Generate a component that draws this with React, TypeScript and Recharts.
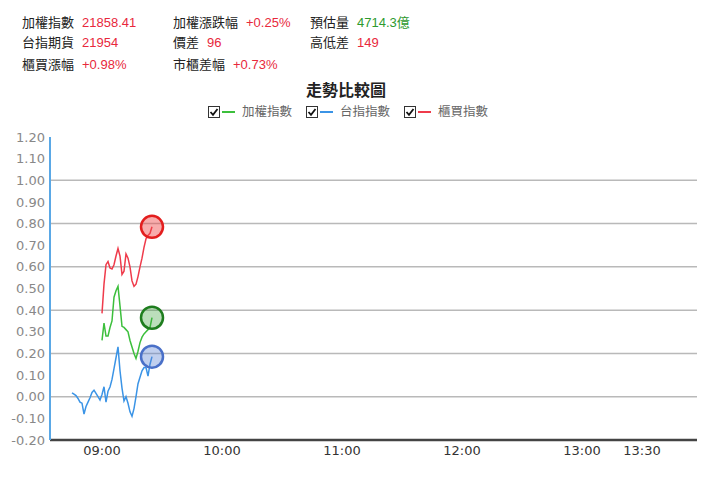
import React from "react";
import { LineChart, Line, XAxis, YAxis, ReferenceLine } from "recharts";

// minutes relative to 09:00
const times = [
  -15, -14, -13, -12, -11, -10, -9, -8, -7, -6, -5, -4, -3, -2, -1,
  0, 1, 2, 3, 4, 5, 6, 7, 8, 9, 10, 11, 12, 13, 14, 15, 16, 17, 18, 19, 20, 21, 22, 23, 24, 25,
];

// 台指指數 (starts 08:45)
const futures = [
  0.018, 0.012, 0.005, -0.008, -0.025, -0.03, -0.08, -0.045, -0.025, -0.005, 0.02, 0.03, 0.015, 0.0, -0.015,
  0.01, 0.046, -0.025, 0.025, 0.045, 0.08, 0.13, 0.18, 0.23, 0.12, 0.04, -0.02, 0.0, -0.03, -0.07, -0.09,
  -0.055, 0.0, 0.06, 0.09, 0.12, 0.135, 0.135, 0.095, 0.15, 0.185,
];

// 加權指數 (starts 09:00)
const taiex = [
  0.26, 0.34, 0.28, 0.28, 0.32, 0.35, 0.46, 0.49, 0.51, 0.42, 0.325, 0.32, 0.31, 0.3, 0.26, 0.23,
  0.2, 0.177, 0.21, 0.25, 0.275, 0.29, 0.3, 0.31, 0.32, 0.365,
];

// 櫃買指數 (starts 09:00)
const otc = [
  0.385, 0.52, 0.61, 0.625, 0.595, 0.59, 0.61, 0.65, 0.685, 0.65, 0.565, 0.58, 0.66, 0.64, 0.6, 0.535,
  0.51, 0.52, 0.555, 0.6, 0.64, 0.69, 0.73, 0.745, 0.755, 0.785,
];

const xTicks = [0, 60, 120, 180, 240, 270];
const yTicks = [-0.2, -0.1, 0, 0.1, 0.2, 0.3, 0.4, 0.5, 0.6, 0.7, 0.8, 0.9, 1.0, 1.1, 1.2];
const gridLines = [0, 0.2, 0.4, 0.6, 0.8, 1.0];

const RED = "#e8283c";
const GREEN = "#2e9a2e";

const headerRows = [
  [
    ["加權指數", "21858.41", RED],
    ["加權漲跌幅", "+0.25%", RED],
    ["預估量", "4714.3億", GREEN],
  ],
  [
    ["台指期貨", "21954", RED],
    ["價差", "96", RED],
    ["高低差", "149", RED],
  ],
  [
    ["櫃買漲幅", "+0.98%", RED],
    ["市櫃差幅", "+0.73%", RED],
  ],
];

const series = [
  { key: "taiex", name: "加權指數", color: "#3cbf3c", ring: "#1e7d1e", fill: "rgba(60,160,60,0.35)" },
  { key: "futures", name: "台指指數", color: "#3b94e6", ring: "#4a70c8", fill: "rgba(90,130,210,0.38)" },
  { key: "otc", name: "櫃買指數", color: "#ef3b4b", ring: "#e31e1e", fill: "rgba(240,70,70,0.45)" },
];

const offset = times.length - taiex.length;
const data = times.map((t, i) => ({
  t,
  futures: futures[i],
  taiex: i >= offset ? taiex[i - offset] : undefined,
  otc: i >= offset ? otc[i - offset] : undefined,
}));

const fmtTime = (m: number) => {
  const total = 9 * 60 + m;
  const h = Math.floor(total / 60);
  const mm = total % 60;
  return `${String(h).padStart(2, "0")}:${String(mm).padStart(2, "0")}`;
};

const endDot = (ring: string, fill: string) => (props: any) => {
  const { cx, cy, index } = props;
  if (index !== data.length - 1 || cx == null || cy == null) return <g key={`d-${index}`} />;
  return <circle key={`d-${index}`} cx={cx} cy={cy} r={11} stroke={ring} strokeWidth={2.5} fill={fill} />;
};

const colX = [22, 173, 310];
const rowY = [13, 33, 55];

const CheckBox = () => (
  <svg width={12} height={12} style={{ verticalAlign: "middle" }}>
    <rect x={0.5} y={0.5} width={11} height={11} fill="#fff" stroke="#333" />
    <polyline points="2.5,6 5,8.8 9.5,3" fill="none" stroke="#111" strokeWidth={1.8} />
  </svg>
);

export default function App() {
  return (
    <div
      style={{
        position: "absolute",
        left: 0,
        top: 0,
        width: 720,
        height: 477,
        background: "#fff",
        fontFamily: '"Liberation Sans", "Noto Sans CJK TC", sans-serif',
      }}
    >
      <LineChart
        width={720}
        height={477}
        data={data}
        margin={{ top: 137, right: 23, bottom: 0, left: 0 }}
        style={{ position: "absolute", left: 0, top: 0 }}
      >
        {gridLines.map((v) => (
          <ReferenceLine key={v} y={v} stroke="#b9b9b9" strokeWidth={1.5} />
        ))}
        <XAxis
          dataKey="t"
          type="number"
          domain={[-26, 297.5]}
          ticks={xTicks}
          interval={0}
          tickFormatter={fmtTime}
          height={37}
          tickLine={false}
          tickSize={4}
          axisLine={{ stroke: "#444", strokeWidth: 2.5 }}
          tick={{ fill: "#333", fontSize: 13, fontFamily: "DejaVu Sans" }}
          allowDataOverflow
        />
        <YAxis
          type="number"
          domain={[-0.2, 1.2]}
          ticks={yTicks}
          interval={0}
          width={50}
          tickLine={false}
          tickSize={3}
          tickMargin={2}
          tickFormatter={(v: number) => v.toFixed(2)}
          axisLine={{ stroke: "#5aa8e6", strokeWidth: 2 }}
          tick={{ fill: "#888", fontSize: 13, fontFamily: "DejaVu Sans" }}
          allowDataOverflow
        />
        {series.map((s) => (
          <Line
            key={s.key}
            dataKey={s.key}
            type="linear"
            stroke={s.color}
            strokeWidth={1.5}
            dot={endDot(s.ring, s.fill)}
            activeDot={false}
            isAnimationActive={false}
          />
        ))}
      </LineChart>

      {headerRows.map((row, r) =>
        row.map(([label, value, color], c) => (
          <div
            key={`${r}-${c}`}
            style={{
              position: "absolute",
              left: colX[c],
              top: rowY[r],
              fontSize: 13,
              lineHeight: "20px",
              color: "#222",
              whiteSpace: "nowrap",
            }}
          >
            <span style={{ marginRight: 8 }}>{label}</span>
            <span style={{ color }}>{value}</span>
          </div>
        ))
      )}

      <div
        style={{
          position: "absolute",
          left: 306,
          top: 78,
          fontSize: 16,
          fontWeight: 700,
          color: "#222",
          fontFamily: '"Noto Sans CJK TC", sans-serif',
          lineHeight: "22px",
        }}
      >
        走勢比較圖
      </div>

      <div
        style={{
          position: "absolute",
          left: 208,
          top: 103,
          display: "flex",
          alignItems: "center",
          fontSize: 12.5,
          color: "#666",
          lineHeight: "18px",
        }}
      >
        {series.map((s) => (
          <span key={s.key} style={{ display: "inline-flex", alignItems: "center", marginRight: 14 }}>
            <CheckBox />
            <span style={{ display: "inline-block", width: 13, height: 2, background: s.color, marginLeft: 2, marginRight: 7 }} />
            <span>{s.name}</span>
          </span>
        ))}
      </div>
    </div>
  );
}
